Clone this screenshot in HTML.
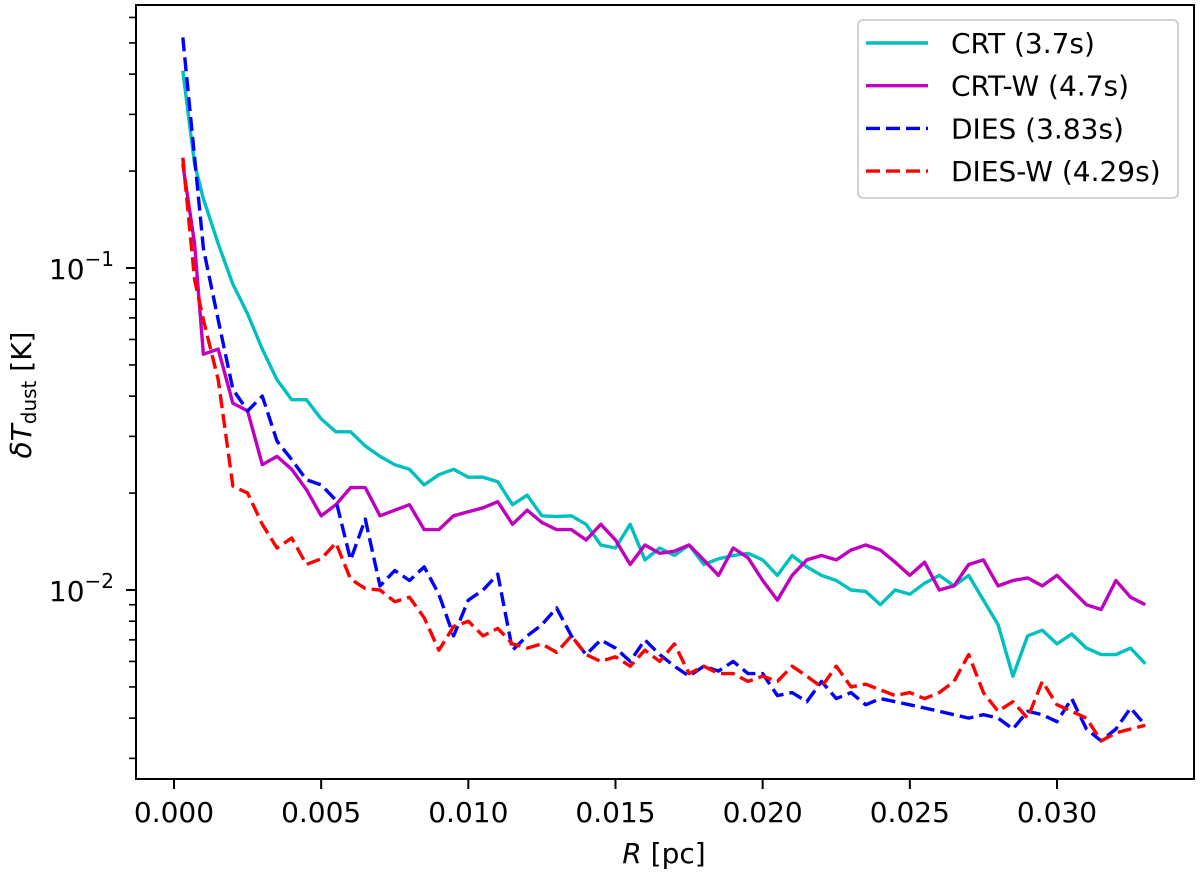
<!DOCTYPE html>
<html><head><meta charset="utf-8"><style>
html,body{margin:0;padding:0;background:#fff;}
svg{display:block;font-family:"DejaVu Sans","Liberation Sans",sans-serif;}
</style></head><body>
<svg id="chart" width="1200" height="873" viewBox="0 0 1200 873">
<g id="plot"></g>
</svg>
<script>
const R=[0.0003,0.0007,0.001,0.0015,0.002,0.0025,0.003,0.0035,0.004,0.0045,0.005,0.0055,0.006,0.0065,0.007,0.0075,0.008,0.0085,0.009,0.0095,0.010,0.0105,0.011,0.0115,0.012,0.0125,0.013,0.0135,0.014,0.0145,0.015,0.0155,0.016,0.0165,0.017,0.0175,0.018,0.0185,0.019,0.0195,0.020,0.0205,0.021,0.0215,0.022,0.0225,0.023,0.0235,0.024,0.0245,0.025,0.0255,0.026,0.0265,0.027,0.0275,0.028,0.0285,0.029,0.0295,0.030,0.0305,0.031,0.0315,0.032,0.0325,0.033];
const crt=[0.41,0.21,0.164,0.119,0.089,0.072,0.056,0.045,0.039,0.039,0.034,0.031,0.031,0.028,0.026,0.0245,0.0237,0.0212,0.0228,0.0237,0.0224,0.0224,0.0217,0.0184,0.0197,0.017,0.0169,0.017,0.016,0.0138,0.0135,0.016,0.0124,0.0135,0.0128,0.0138,0.0120,0.0125,0.0128,0.0130,0.0124,0.0111,0.0128,0.0118,0.0111,0.0107,0.0100,0.0099,0.0090,0.0100,0.0097,0.0105,0.0111,0.0103,0.0111,0.0093,0.0078,0.0054,0.0072,0.0075,0.0068,0.0073,0.0066,0.0063,0.0063,0.0066,0.0059];
const crtW=[0.21,0.119,0.054,0.056,0.038,0.036,0.0245,0.026,0.0237,0.0205,0.017,0.0184,0.0208,0.0208,0.017,0.0177,0.0184,0.0154,0.0154,0.017,0.0175,0.018,0.0188,0.016,0.0177,0.0162,0.0154,0.0154,0.0143,0.016,0.0143,0.012,0.0138,0.013,0.0132,0.0138,0.0124,0.0111,0.0135,0.0126,0.0107,0.0093,0.0111,0.0124,0.0128,0.0124,0.0133,0.0138,0.0133,0.0122,0.0111,0.0122,0.0100,0.0103,0.012,0.0124,0.0103,0.0107,0.0109,0.0103,0.0111,0.0100,0.0090,0.0087,0.0107,0.0095,0.0090];
const dies=[0.52,0.22,0.115,0.069,0.042,0.036,0.040,0.029,0.0254,0.022,0.0212,0.019,0.0124,0.0166,0.0103,0.0115,0.0107,0.0118,0.0097,0.0072,0.0093,0.0100,0.0112,0.0065,0.0072,0.0078,0.0088,0.0072,0.0063,0.0070,0.0066,0.0060,0.0070,0.0063,0.0058,0.0054,0.0058,0.0056,0.0060,0.0055,0.0055,0.0047,0.0048,0.0045,0.0052,0.0046,0.0048,0.0044,0.0046,0.0045,0.0044,0.0043,0.0042,0.0041,0.0040,0.0041,0.0040,0.0037,0.0042,0.0041,0.0039,0.0046,0.0037,0.0034,0.0037,0.0043,0.0038];
const diesW=[0.22,0.092,0.069,0.045,0.021,0.020,0.016,0.0135,0.0145,0.012,0.0125,0.0140,0.0108,0.0101,0.0100,0.0092,0.0095,0.0082,0.0065,0.0077,0.0080,0.0072,0.0076,0.0068,0.0066,0.0068,0.0064,0.0072,0.0063,0.0060,0.0062,0.0058,0.0065,0.0060,0.0068,0.0055,0.0058,0.0055,0.0055,0.0052,0.0054,0.0052,0.0058,0.0054,0.0050,0.0058,0.0050,0.0051,0.0049,0.0047,0.0048,0.0046,0.0048,0.0052,0.0063,0.0048,0.0042,0.0045,0.0040,0.0052,0.0044,0.0042,0.0040,0.0034,0.0036,0.0037,0.0038];
const xTicks=[0,0.005,0.010,0.015,0.020,0.025,0.030];
const xTickLabels=["0.000","0.005","0.010","0.015","0.020","0.025","0.030"];
const yMajor=[-2,-1];
const legendLabels=["CRT (3.7s)","CRT-W (4.7s)","DIES (3.83s)","DIES-W (4.29s)"];

const NS="http://www.w3.org/2000/svg";
const L=136,T=5,Rt=1194,B=779;
const x=v=>174+v*(883/0.030);
const y=v=>268-(Math.log10(v)+1)*322;
const g=document.getElementById('plot');
function mk(tag,attrs,parent){const e=document.createElementNS(NS,tag);for(const k in attrs)e.setAttribute(k,attrs[k]);(parent||g).appendChild(e);return e;}

const clip=mk('clipPath',{id:'cp'});mk('rect',{x:L,y:T,width:Rt-L,height:B-T},clip);

const series=[[crt,'#00bfbf',''],[crtW,'#bf00bf',''],[dies,'#0000ff','14 6'],[diesW,'#ff0000','14 6']];
const names=['series-crt','series-crt-w','series-dies','series-dies-w'];
series.forEach((s,i)=>{
  const n=Math.min(R.length,s[0].length);
  let d='';for(let j=0;j<n;j++)d+=(j?'L':'M')+x(R[j]).toFixed(1)+','+y(s[0][j]).toFixed(1);
  const p=mk('path',{d:d,fill:'none',stroke:s[1],'stroke-width':3.4,'stroke-dasharray':s[2],'clip-path':'url(#cp)','stroke-linejoin':'round'});
  
  
});

const frame=mk('rect',{x:L,y:T,width:Rt-L,height:B-T,fill:'none',stroke:'#000','stroke-width':2});



xTicks.forEach((t,i)=>{
  const px=x(t);
  mk('line',{x1:px,x2:px,y1:B,y2:B+10,stroke:'#000','stroke-width':2});
  const tx=mk('text',{x:px,y:822,'text-anchor':'middle','font-size':28});
  tx.textContent=xTickLabels[i];
  
  
});
yMajor.forEach(e=>{
  const py=y(Math.pow(10,e));
  mk('line',{x1:L-10,x2:L,y1:py,y2:py,stroke:'#000','stroke-width':2});
  const tx=mk('text',{x:L-22,y:py+11,'text-anchor':'end','font-size':28});
  tx.innerHTML='10<tspan dy="-13" font-size="20">'+(e<0?'\u2212':'')+Math.abs(e)+'</tspan>';
  
  
});
[-3,-2,-1].forEach(e=>{for(let m=2;m<10;m++){const v=m*Math.pow(10,e);const py=y(v);if(py>=T&&py<=B)mk('line',{x1:L-7,x2:L,y1:py,y2:py,stroke:'#000','stroke-width':1.6});}});

const xl=mk('text',{x:664,y:863,'text-anchor':'middle','font-size':28});
xl.innerHTML='<tspan font-style="italic">R</tspan> [pc]';


const yl=mk('text',{x:0,y:0,'text-anchor':'middle','font-size':28,transform:'translate(31,395) rotate(-90)'});
yl.innerHTML='<tspan font-style="italic">δT</tspan><tspan font-size="20" dy="5">dust</tspan><tspan dy="-5"> [K]</tspan>';



const lg=mk('g',{});


mk('rect',{x:858,y:20,width:320,height:178,rx:5,fill:'#fff',stroke:'#ccc','stroke-width':1.8},lg);
legendLabels.forEach((lab,i)=>{
  const ly=43+i*42.7;
  mk('line',{x1:866,x2:928,y1:ly,y2:ly,stroke:series[i][1],'stroke-width':3.4,'stroke-dasharray':series[i][2]},lg);
  const t=mk('text',{x:951,y:ly+10,'font-size':28},lg);
  t.textContent=lab;
  
  
});
</script>
</body></html>
